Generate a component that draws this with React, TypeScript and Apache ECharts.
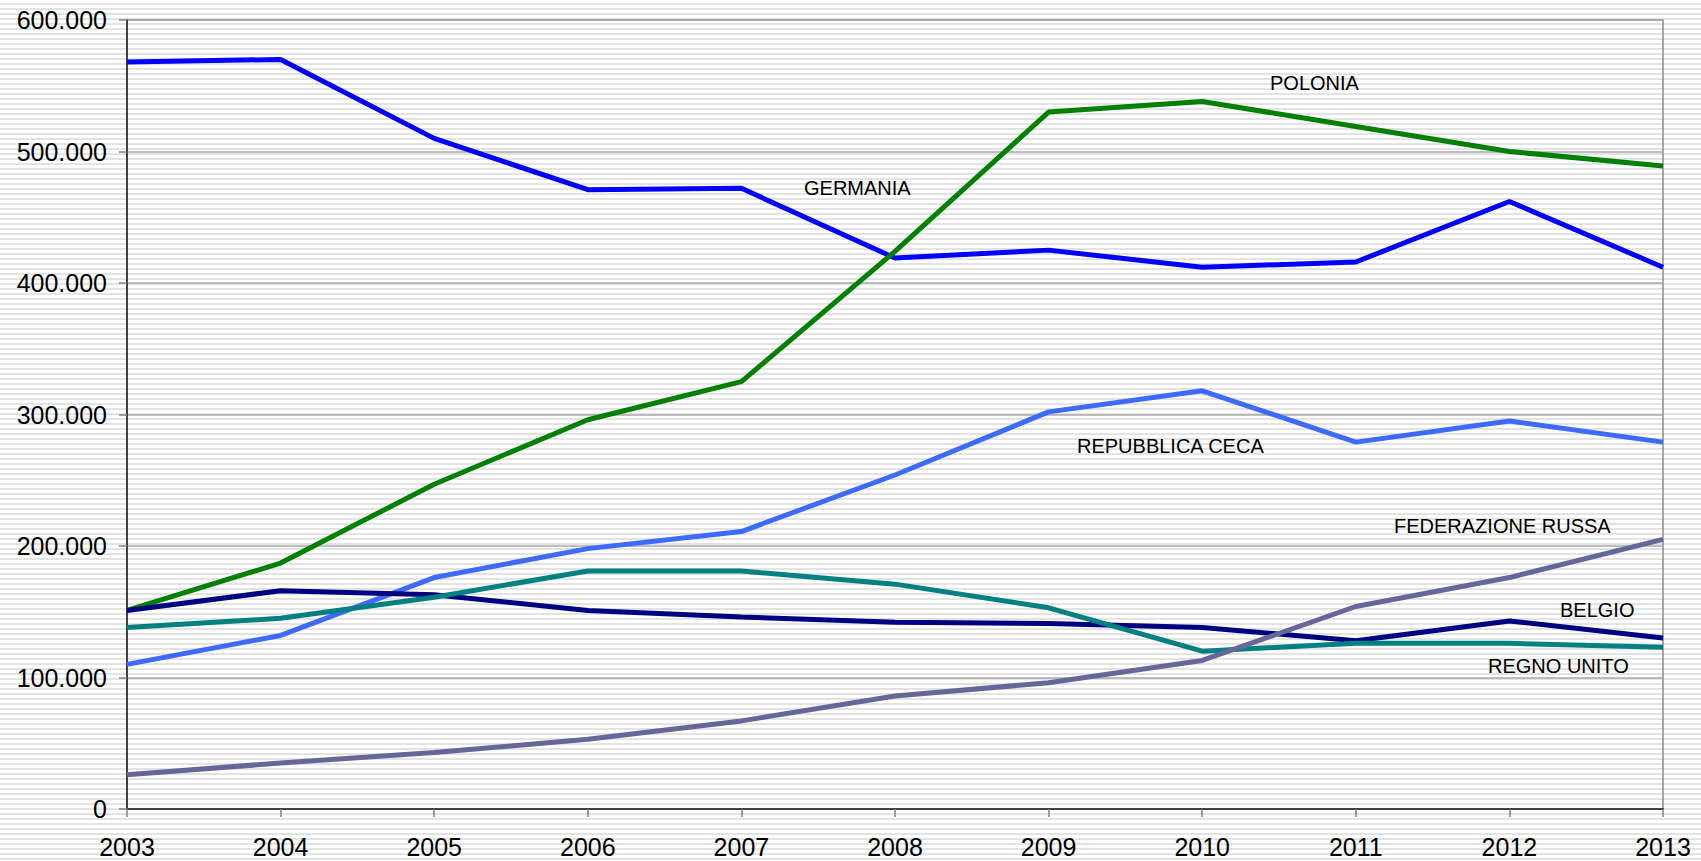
import React, { useEffect, useRef } from "react";
import * as echarts from "echarts";

const years = ["2003", "2004", "2005", "2006", "2007", "2008", "2009", "2010", "2011", "2012", "2013"];

const germania = [568000, 570000, 510000, 471000, 472000, 419000, 425000, 412000, 416000, 462000, 412000];
const polonia = [151000, 187000, 247000, 296000, 325000, 424000, 530000, 538000, 519000, 500000, 489000];
const repubblicaCeca = [110000, 132000, 176000, 198000, 211000, 254000, 302000, 318000, 279000, 295000, 279000];
const belgio = [151000, 166000, 163000, 151000, 146000, 142000, 141000, 138000, 128000, 143000, 130000];
const regnoUnito = [138000, 145000, 161000, 181000, 181000, 171000, 153000, 120000, 126000, 126000, 123000];
const federazioneRussa = [26000, 35000, 43000, 53000, 67000, 86000, 96000, 113000, 154000, 176000, 205000];

const seriesNames = ["GERMANIA", "POLONIA", "REPUBBLICA CECA", "BELGIO", "REGNO UNITO", "FEDERAZIONE RUSSA"];
const seriesColors = ["#0000ff", "#008000", "#3d6bff", "#000080", "#008080", "#666699"];
const seriesData = [germania, polonia, repubblicaCeca, belgio, regnoUnito, federazioneRussa];

const FONT = "'Liberation Sans', Arial, sans-serif";

const fmt = (v: number) => String(v).replace(/\B(?=(\d{3})+(?!\d))/g, ".");

export default function App() {
  const ref = useRef<HTMLDivElement>(null);
  useEffect(() => {
    if (!ref.current) return;
    const chart = echarts.init(ref.current, undefined, { renderer: "svg" });
    const labelPos: [string, number, number][] = [
      ["POLONIA", 1270, 83],
      ["GERMANIA", 804, 188],
      ["REPUBBLICA CECA", 1077, 446],
      ["FEDERAZIONE RUSSA", 1394, 526],
      ["BELGIO", 1560, 610],
      ["REGNO UNITO", 1488, 666],
    ];
    chart.setOption({
      animation: false,
      backgroundColor: "transparent",
      textStyle: { fontFamily: FONT },
      grid: {
        left: 127,
        right: 38,
        top: 20,
        bottom: 52,
        show: true,
        borderColor: "#8c8c8c",
        borderWidth: 1.5,
        backgroundColor: "transparent",
      },
      xAxis: {
        type: "category",
        data: years,
        boundaryGap: false,
        axisLine: { show: true, lineStyle: { color: "#404040", width: 2 } },
        axisTick: { show: true, length: 8, lineStyle: { color: "#808080", width: 1.5 } },
        axisLabel: { fontSize: 25, color: "#000", fontFamily: FONT, margin: 25 },
        splitLine: { show: false },
      },
      yAxis: {
        type: "value",
        min: 0,
        max: 600000,
        interval: 100000,
        axisLine: { show: true, lineStyle: { color: "#404040", width: 2 } },
        axisTick: { show: true, length: 8, lineStyle: { color: "#808080", width: 1.5 } },
        axisLabel: { fontSize: 25, color: "#000", fontFamily: FONT, margin: 20, formatter: (v: number) => fmt(v) },
        splitLine: { show: true, lineStyle: { color: "#a8a8a8", width: 1.5 } },
      },
      series: seriesData.map((d, i) => ({
        name: seriesNames[i],
        type: "line",
        data: d,
        symbol: "none",
        showSymbol: false,
        lineStyle: { color: seriesColors[i], width: 5 },
        itemStyle: { color: seriesColors[i] },
      })),
      graphic: labelPos.map(([t, x, y]) => ({
        type: "text",
        x,
        y,
        z: 100,
        style: {
          text: t,
          fill: "#000",
          fontSize: 20,
          fontFamily: FONT,
          verticalAlign: "middle",
          align: "left",
        },
      })),
    });
    return () => chart.dispose();
  }, []);
  return (
    <div
      ref={ref}
      style={{
        position: "fixed",
        left: 0,
        top: 0,
        width: 1701,
        height: 861,
        background:
          "repeating-linear-gradient(180deg, #ffffff 0px, #ffffff 3px, #e3e3e3 3px, #e3e3e3 5px)",
      }}
    />
  );
}
